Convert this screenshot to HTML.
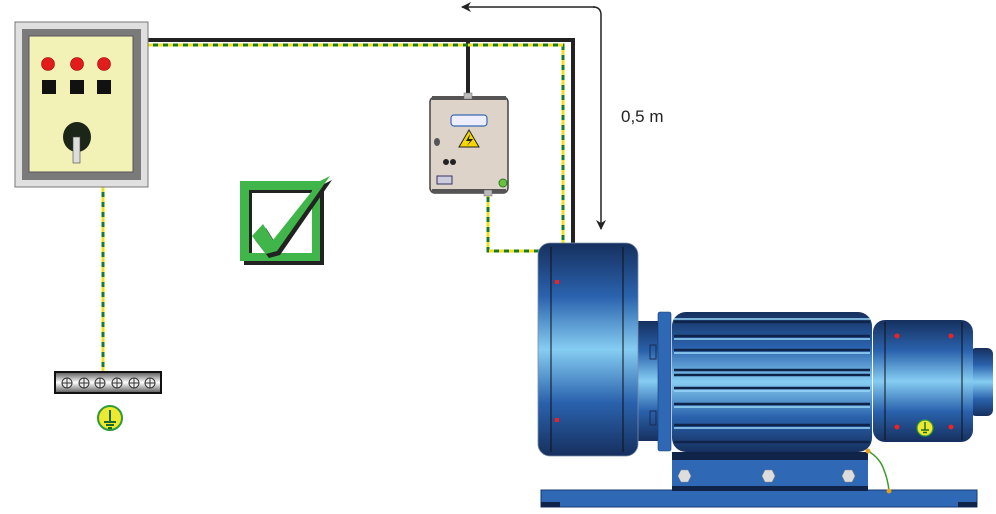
<!DOCTYPE html>
<html><head><meta charset="utf-8"><style>
html,body{margin:0;padding:0;background:#fff;width:996px;height:514px;overflow:hidden}
svg{display:block}
</style></head><body>
<svg width="996" height="514" viewBox="0 0 996 514" xmlns="http://www.w3.org/2000/svg">
<defs>
<linearGradient id="bv" x1="0" y1="0" x2="0" y2="1">
<stop offset="0" stop-color="#16305e"/><stop offset="0.25" stop-color="#2a62ad"/><stop offset="0.5" stop-color="#86cdf2"/><stop offset="0.75" stop-color="#2a62ad"/><stop offset="1" stop-color="#16305e"/>
</linearGradient>
<linearGradient id="bar" x1="0" y1="0" x2="0" y2="1">
<stop offset="0" stop-color="#555"/><stop offset="0.5" stop-color="#fff"/><stop offset="1" stop-color="#555"/>
</linearGradient>
<marker id="ah" markerWidth="10" markerHeight="10" refX="9" refY="5" orient="auto" markerUnits="userSpaceOnUse"><path d="M0,0 L10,5 L0,10 L3,5 Z" fill="#222"/></marker>
</defs>

<g fill="none">
<path d="M148,40 H573 V245" stroke="#222" stroke-width="4"/>
<path d="M468,40 V96" stroke="#222" stroke-width="4"/>
<path d="M148,45 H563 V245" stroke="#1a7a2a" stroke-width="3"/>
<path d="M148,45 H563 V245" stroke="#f0e020" stroke-width="3" stroke-dasharray="5 5"/>
<path d="M488,192 V251 H540" stroke="#1a7a2a" stroke-width="3"/>
<path d="M488,192 V251 H540" stroke="#f0e020" stroke-width="3" stroke-dasharray="5 5"/>
<path d="M103,187 V373" stroke="#1a7a2a" stroke-width="3"/>
<path d="M103,187 V373" stroke="#f0e020" stroke-width="3" stroke-dasharray="5 5"/>
</g>

<path d="M595,7 H462" stroke="#222" stroke-width="1.5" fill="none" marker-end="url(#ah)"/>
<path d="M593,7 Q601,7 601,15 V229" stroke="#222" stroke-width="1.5" fill="none" marker-end="url(#ah)"/>
<text x="621" y="122" font-family="Liberation Sans, sans-serif" font-size="17" fill="#222">0,5 m</text>

<rect x="15" y="22" width="133" height="165" fill="#e0e0e0" stroke="#777" stroke-width="1"/>
<rect x="22" y="29" width="119" height="151" fill="#7a7a7a"/>
<rect x="29" y="36" width="104" height="136" fill="#f2f1b6" stroke="#555" stroke-width="1"/>
<circle cx="48" cy="64" r="6.5" fill="#e21b1b" stroke="#900" stroke-width="0.6"/>
<circle cx="77" cy="64" r="6.5" fill="#e21b1b" stroke="#900" stroke-width="0.6"/>
<circle cx="104" cy="64" r="6.5" fill="#e21b1b" stroke="#900" stroke-width="0.6"/>
<rect x="42" y="80" width="14" height="14" fill="#111"/>
<rect x="70" y="80" width="14" height="14" fill="#111"/>
<rect x="97" y="80" width="14" height="14" fill="#111"/>
<ellipse cx="77" cy="137" rx="14" ry="15" fill="#1c2618"/>
<rect x="73" y="137" width="7" height="26" fill="#ddd" stroke="#444" stroke-width="0.6"/>

<rect x="55" y="372" width="106" height="21" fill="url(#bar)" stroke="#111" stroke-width="2"/>
<g stroke="#333" stroke-width="1" fill="#eee">
<circle cx="67" cy="383" r="5"/><circle cx="84" cy="383" r="5"/><circle cx="100" cy="383" r="5"/><circle cx="117" cy="383" r="5"/><circle cx="134" cy="383" r="5"/><circle cx="150" cy="383" r="5"/>
</g>
<g stroke="#333" stroke-width="1">
<path d="M62,383h10M67,378v10M79,383h10M84,378v10M95,383h10M100,378v10M112,383h10M117,378v10M129,383h10M134,378v10M145,383h10M150,378v10"/>
</g>
<circle cx="110" cy="418" r="12" fill="#eee830" stroke="#2a9a3a" stroke-width="2"/>
<path d="M110,410 V422 M104,422 H116 M106,425 H114 M108,428 H112" stroke="#1a6a2a" stroke-width="2"/>

<!-- checkbox -->
<rect x="244" y="185" width="80" height="80" fill="#222"/>
<rect x="240" y="181" width="80" height="80" fill="#3fb54a"/>
<rect x="249" y="190" width="63" height="63" fill="#fff"/>
<path d="M249,190 H312 V193 H252 V253 H249 Z" fill="#222"/>
<path d="M255,240 L266,228 L276,244 L322,185 L332,180 L280,255 L269,258 Z" fill="#222"/>
<path d="M252,236 L263,224 L273,240 L320,181 L330,176 L277,251 L266,254 Z" fill="#3fb54a"/>

<rect x="430" y="97" width="78" height="96" rx="5" fill="#ddd3c8" stroke="#444" stroke-width="1.5"/>
<rect x="432" y="96" width="74" height="4" fill="#555"/>
<rect x="432" y="189" width="74" height="4" fill="#555"/>
<rect x="464" y="93" width="8" height="6" fill="#bbb" stroke="#666" stroke-width="0.5"/>
<rect x="484" y="190" width="8" height="6" fill="#bbb" stroke="#666" stroke-width="0.5"/>
<rect x="451" y="115" width="36" height="11" rx="3" fill="#eef" stroke="#3a6ab0" stroke-width="1.2"/>
<path d="M469,130 L479,147 H459 Z" fill="#f5d800" stroke="#222" stroke-width="1"/>
<path d="M470,134 L466,141 H470 L467,146 L473,139 H469 Z" fill="#222"/>
<ellipse cx="437" cy="142" rx="3" ry="4" fill="#555"/>
<circle cx="446" cy="162" r="3" fill="#222"/><circle cx="453" cy="162" r="3" fill="#222"/>
<rect x="437" y="176" width="15" height="8" fill="#ccd" stroke="#336" stroke-width="1"/>
<circle cx="503" cy="183" r="4" fill="#6cc040" stroke="#2a7a2a" stroke-width="1"/>

<rect x="541" y="490" width="436" height="17" fill="#2f68b4" stroke="#183a70" stroke-width="1"/>
<rect x="541" y="502" width="19" height="5" fill="#0f2448"/>
<rect x="958" y="502" width="19" height="5" fill="#0f2448"/>
<rect x="672" y="452" width="196" height="39" fill="#2f68b4"/>
<rect x="672" y="452" width="196" height="8" fill="#0f2448"/>
<rect x="672" y="486" width="196" height="5" fill="#0f2448"/>
<g fill="#ddd" stroke="#888" stroke-width="0.5">
<polygon points="678,476 681,470 688,470 691,476 688,482 681,482"/>
<polygon points="762,476 765,470 772,470 775,476 772,482 765,482"/>
<polygon points="842,476 845,470 852,470 855,476 852,482 845,482"/>
</g>
<rect x="638" y="321" width="22" height="120" fill="url(#bv)"/>
<rect x="650" y="345" width="6" height="14" fill="none" stroke="#1a2a50" stroke-width="1"/>
<rect x="650" y="411" width="6" height="14" fill="none" stroke="#1a2a50" stroke-width="1"/>
<rect x="538" y="243" width="100" height="213" rx="12" fill="url(#bv)" stroke="#7a8ca8" stroke-width="0.8"/>
<line x1="551" y1="247" x2="551" y2="452" stroke="#111" stroke-width="1"/>
<line x1="623" y1="247" x2="623" y2="452" stroke="#111" stroke-width="1"/>
<rect x="555" y="280" width="4" height="4" fill="#e22"/>
<rect x="555" y="418" width="4" height="4" fill="#e22"/>
<rect x="658" y="312" width="13" height="139" rx="2" fill="#2f68b4" stroke="#1a3a70" stroke-width="0.6"/>
<rect x="672" y="312" width="200" height="140" rx="14" fill="url(#bv)"/>
<g stroke="#0f2448" stroke-width="2.5">
<line x1="674" y1="322" x2="870" y2="322"/><line x1="674" y1="336" x2="870" y2="336"/><line x1="674" y1="350" x2="870" y2="350"/>
<line x1="674" y1="370" x2="870" y2="370"/><line x1="674" y1="375" x2="870" y2="375"/><line x1="674" y1="388" x2="870" y2="388"/>
<line x1="674" y1="404" x2="870" y2="404"/><line x1="674" y1="425" x2="870" y2="425"/><line x1="674" y1="442" x2="870" y2="442"/>
</g>
<g stroke="#9ad8f8" stroke-width="1.5">
<line x1="674" y1="319" x2="870" y2="319"/><line x1="674" y1="339" x2="870" y2="339"/><line x1="674" y1="353" x2="870" y2="353"/>
<line x1="674" y1="391" x2="870" y2="391"/><line x1="674" y1="407" x2="870" y2="407"/><line x1="674" y1="428" x2="870" y2="428"/>
</g>
<rect x="970" y="348" width="23" height="68" rx="6" fill="url(#bv)"/>
<rect x="873" y="320" width="100" height="122" rx="12" fill="url(#bv)"/>
<line x1="885" y1="322" x2="885" y2="440" stroke="#111" stroke-width="1"/>
<line x1="962" y1="322" x2="962" y2="440" stroke="#111" stroke-width="1"/>
<circle cx="897" cy="336" r="2.5" fill="#e22"/><circle cx="951" cy="336" r="2.5" fill="#e22"/>
<circle cx="897" cy="427" r="2.5" fill="#e22"/><circle cx="951" cy="427" r="2.5" fill="#e22"/>
<circle cx="925" cy="428" r="8" fill="#eee830" stroke="#2a9a3a" stroke-width="1.2"/>
<path d="M925,422 V430 M921,430 H929 M923,432.5 H927" stroke="#1a6a2a" stroke-width="1.4"/>
<path d="M868,451 Q880,458 884,470 Q888,480 889,491" stroke="#3a9a2a" stroke-width="1.5" fill="none"/>
<circle cx="868" cy="451" r="2.5" fill="#e0a020"/>
<circle cx="889" cy="491" r="2.5" fill="#e0a020"/>
</svg>
</body></html>
